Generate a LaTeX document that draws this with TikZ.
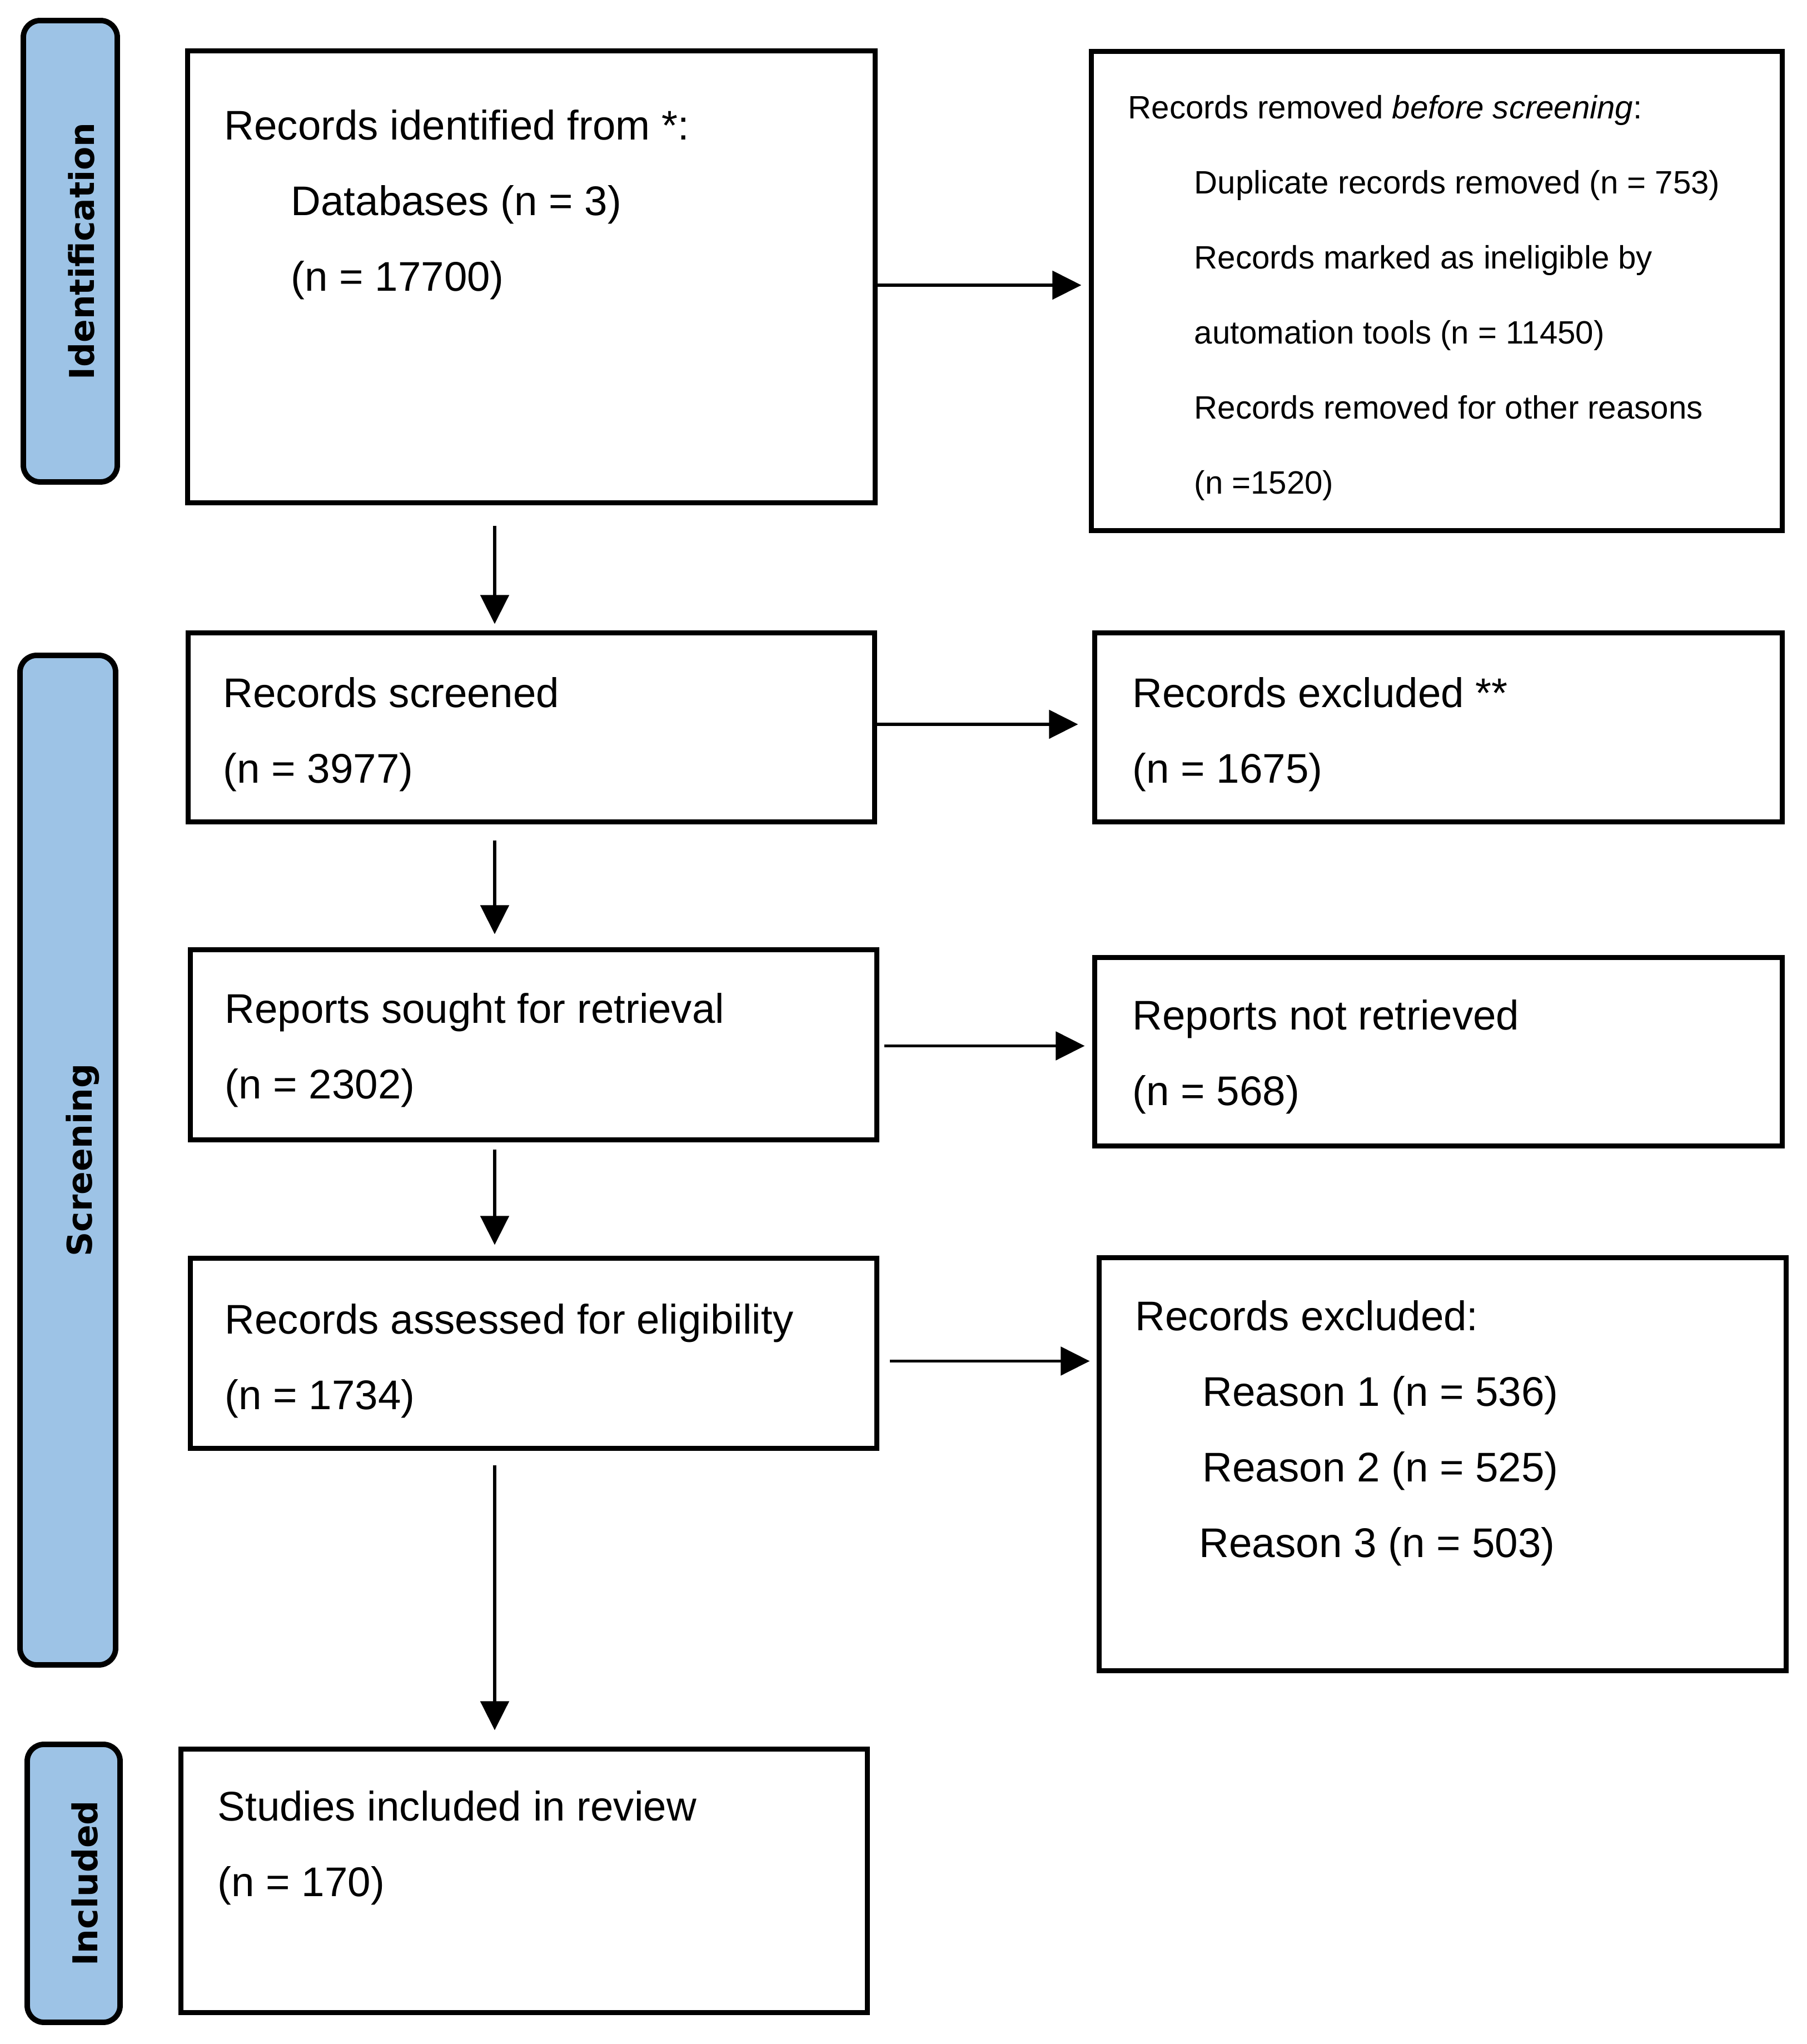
\documentclass[tikz,border=0pt]{standalone}
\usepackage{fontspec}
\setmainfont{Liberation Sans}
\newfontfamily\stagefont{DejaVu Sans}
\usetikzlibrary{arrows.meta}
\definecolor{stageblue}{HTML}{9DC3E6}
\tikzset{
    box/.style = {draw=black, line width=2.6pt, rectangle, inner sep=0pt},
    stage/.style = {draw=black, line width=2.8pt, rounded corners=0.3cm, fill=stageblue, inner sep=0pt},
    stagetext/.style = {rotate=90, anchor=base, inner sep=0pt, font=\stagefont\bfseries\fontsize{17.5}{21}\selectfont},
    boxtext/.style = {anchor=north west, inner sep=0pt, align=left, font=\fontsize{21.2}{38.7}\selectfont},
    smalltext/.style = {boxtext, font=\fontsize{16.55}{38.4}\selectfont},
    flow/.style = {line width=1.5pt, -{Triangle[length=0.52cm, width=0.51cm]}}
}

\begin{document}
\begin{tikzpicture}
        \useasboundingbox (0, 0) rectangle (32.51, 36.77);
        % place stage labels
        \node[stage, minimum width=1.69cm, minimum height=8.30cm] (stage-1) at (1.265, 32.25) {};
        \node[stage, minimum width=1.72cm, minimum height=18.16cm] (stage-2) at (1.22, 15.90) {};
        \node[stage, minimum width=1.67cm, minimum height=5.00cm] (stage-3) at (1.325, 2.89) {};
        \node[stagetext] (stage-1-text) at ([xshift=0.43cm]stage-1.center) {Identification};
        \node[stagetext] (stage-2-text) at ([xshift=0.43cm]stage-2.center) {Screening};
        \node[stagetext] (stage-3-text) at ([xshift=0.43cm]stage-3.center) {Included};

        % place boxes
        \node[box, minimum width=12.37cm, minimum height=8.13cm] (ident) at (9.56, 31.79) {};
        \node[box, minimum width=12.43cm, minimum height=8.62cm] (removed) at (25.85, 31.535) {};
        \node[box, minimum width=12.35cm, minimum height=3.40cm] (screen) at (9.56, 23.685) {};
        \node[box, minimum width=12.37cm, minimum height=3.40cm] (excl) at (25.88, 23.685) {};
        \node[box, minimum width=12.35cm, minimum height=3.42cm] (sought) at (9.60, 17.975) {};
        \node[box, minimum width=12.37cm, minimum height=3.39cm] (notret) at (25.88, 17.85) {};
        \node[box, minimum width=12.35cm, minimum height=3.42cm] (assess) at (9.60, 12.425) {};
        \node[box, minimum width=12.36cm, minimum height=7.43cm] (reason) at (25.955, 10.43) {};
        \node[box, minimum width=12.35cm, minimum height=4.74cm] (incl) at (9.43, 2.935) {};

        % place box texts
        \node[boxtext] (ident-text) at (4.03, 34.80)
            {Records identified from *:\\ \hspace*{1.2cm}Databases (n = 3)\\ \hspace*{1.2cm}(n = 17700)};
        \node[smalltext] (removed-text) at (20.29, 35.065)
            {Records removed \textit{before screening}:\\ \hspace*{1.19cm}Duplicate records removed (n = 753)\\
             \hspace*{1.19cm}Records marked as ineligible by\\ \hspace*{1.19cm}automation tools (n = 11450)\\
             \hspace*{1.19cm}Records removed for other reasons\\ \hspace*{1.19cm}(n =1520)};
        \node[boxtext] (screen-text) at (4.01, 24.59) {Records screened\\(n = 3977)};
        \node[boxtext] (excl-text) at (20.37, 24.59) {Records excluded **\\(n = 1675)};
        \node[boxtext] (sought-text) at (4.04, 18.91) {Reports sought for retrieval\\(n = 2302)};
        \node[boxtext] (notret-text) at (20.37, 18.79) {Reports not retrieved\\(n = 568)};
        \node[boxtext] (assess-text) at (4.04, 13.32) {Records assessed for eligibility\\(n = 1734)};
        \node[boxtext] (reason-text) at (20.42, 13.38)
            {Records excluded:\\ \hspace*{1.21cm}Reason 1 (n = 536)\\ \hspace*{1.21cm}Reason 2 (n = 525)\\ \hspace*{1.15cm}Reason 3 (n = 503)};
        \node[boxtext] (incl-text) at (3.91, 4.56) {Studies included in review\\(n = 170)};

        % draw main flow down the left column
        \coordinate (spine) at (8.90, 0);
        \draw[flow, shorten <=0.365cm, shorten >=0.115cm] (ident.south -| spine) -- (screen.north -| spine);
        \draw[flow, shorten <=0.285cm, shorten >=0.235cm] (screen.south -| spine) -- (sought.north -| spine);
        \draw[flow, shorten <=0.125cm, shorten >=0.195cm] (sought.south -| spine) -- (assess.north -| spine);
        \draw[flow, shorten <=0.255cm, shorten >=0.295cm] (assess.south -| spine) -- (incl.north -| spine);
        % draw exclusions to the right column
        \draw[flow, shorten >=0.135cm] ([yshift=-0.15cm]ident.east) -- ([yshift=-0.15cm]ident.east -| removed.west);
        \draw[flow, shorten >=0.255cm] ([yshift=0.055cm]screen.east) -- ([yshift=0.055cm]screen.east -| excl.west);
        \draw[flow, shorten <=0.085cm, shorten >=0.135cm] ([yshift=-0.02cm]sought.east) -- ([yshift=-0.02cm]sought.east -| notret.west);
        \draw[flow, shorten <=0.185cm, shorten >=0.125cm] ([yshift=-0.14cm]assess.east) -- ([yshift=-0.14cm]assess.east -| reason.west);
    \end{tikzpicture}
\end{document}
